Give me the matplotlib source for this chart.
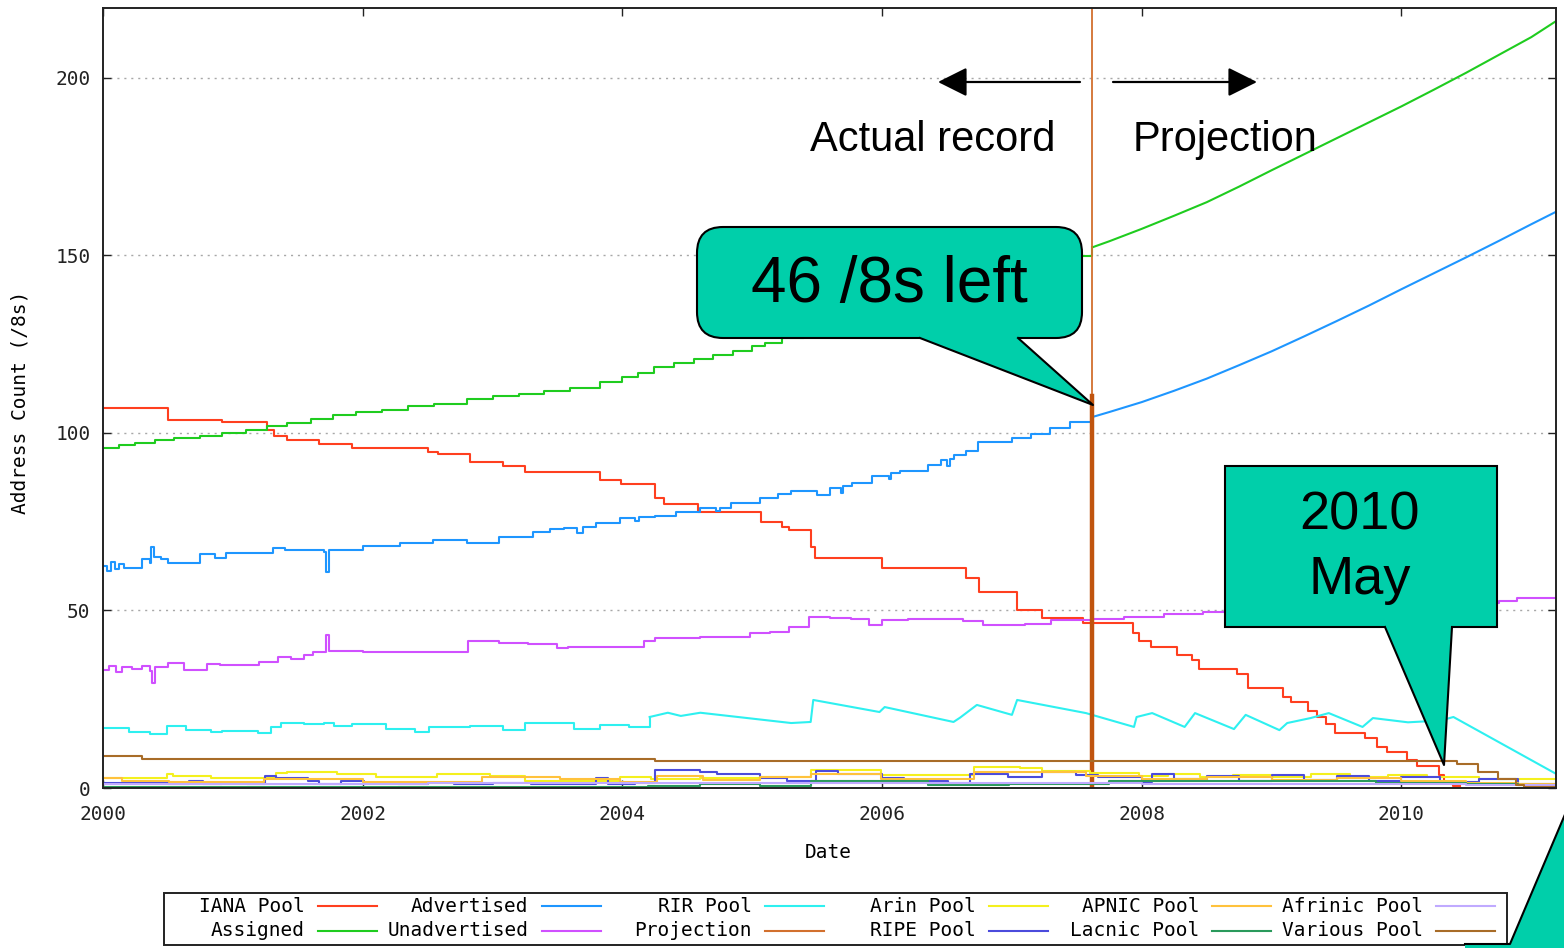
import matplotlib

matplotlib.use("Agg")
import matplotlib.pyplot as plt
from matplotlib.lines import Line2D
from matplotlib.patches import FancyArrowPatch, FancyBboxPatch, Polygon, Rectangle
from matplotlib.transforms import Affine2D

# --- data (year, /8 count) ---
iana_pool = [
    (2000.00, 107.0), (2000.50, 103.7), (2000.92, 103.0), (2001.26, 100.8), (2001.32, 99.2),
    (2001.42, 98.0), (2001.66, 96.9), (2001.92, 95.8), (2002.50, 94.6), (2002.58, 94.0),
    (2002.83, 91.8), (2003.08, 90.7), (2003.25, 89.0), (2003.83, 86.8), (2003.99, 85.6),
    (2004.25, 81.7), (2004.32, 80.0), (2004.58, 77.7), (2005.07, 75.0), (2005.23, 73.5),
    (2005.28, 72.7), (2005.45, 68.0), (2005.48, 64.8), (2006.00, 62.0), (2006.65, 59.2),
    (2006.75, 55.2), (2007.04, 50.1), (2007.23, 47.9), (2007.55, 46.5), (2007.93, 43.7),
    (2007.98, 41.4), (2008.07, 39.7), (2008.27, 37.5), (2008.39, 36.0), (2008.44, 33.5),
    (2008.73, 32.1), (2008.82, 28.2), (2009.09, 25.6), (2009.15, 24.2), (2009.28, 21.7),
    (2009.35, 20.0), (2009.42, 18.0), (2009.49, 15.5), (2009.72, 14.1), (2009.81, 11.5),
    (2009.89, 10.1), (2010.04, 7.9), (2010.12, 6.2), (2010.29, 3.7), (2010.33, 1.4),
    (2010.40, 0.5), (2010.45, 0.5),
]

assigned = [
    (2000.00, 95.8), (2000.12, 96.5), (2000.25, 97.2), (2000.40, 97.9), (2000.55, 98.5),
    (2000.75, 99.2), (2000.92, 100.0), (2001.10, 100.9), (2001.26, 102.0), (2001.42, 102.8),
    (2001.60, 103.8), (2001.77, 105.0), (2001.95, 105.8), (2002.15, 106.6), (2002.35, 107.5),
    (2002.55, 108.3), (2002.80, 109.5), (2003.00, 110.3), (2003.20, 111.0), (2003.40, 111.8),
    (2003.60, 112.8), (2003.83, 114.4), (2004.00, 115.8), (2004.12, 117.0), (2004.24, 118.6),
    (2004.40, 119.6), (2004.55, 120.8), (2004.70, 122.0), (2004.85, 123.2), (2005.00, 124.4),
    (2005.10, 125.4), (2005.23, 126.8), (2005.40, 128.5), (2005.60, 130.5), (2005.80, 132.5),
    (2006.00, 134.5), (2006.20, 136.5), (2006.40, 138.6), (2006.60, 140.8), (2006.80, 143.0),
    (2007.00, 145.2), (2007.20, 147.5), (2007.40, 149.8), (2007.62, 152.3),
]
assigned_proj = [
    (2007.62, 152.3), (2007.75, 154.0), (2008.00, 157.5), (2008.25, 161.2), (2008.50, 165.0),
    (2008.75, 169.4), (2009.00, 174.0), (2009.25, 178.5), (2009.50, 183.0), (2009.75, 187.5),
    (2010.00, 192.0), (2010.25, 196.7), (2010.50, 201.5), (2010.75, 206.5), (2011.00, 211.5),
    (2011.19, 216.0),
]

advertised = [
    (2000.00, 62.5), (2000.03, 61.0), (2000.06, 63.7), (2000.09, 61.8), (2000.12, 63.2),
    (2000.16, 62.0), (2000.23, 62.0), (2000.30, 64.5), (2000.36, 63.5), (2000.37, 68.0),
    (2000.39, 65.0), (2000.45, 64.5), (2000.50, 63.4), (2000.61, 63.4), (2000.75, 66.0),
    (2000.86, 64.9), (2000.95, 66.2), (2001.18, 66.2), (2001.31, 67.6), (2001.40, 67.0),
    (2001.57, 67.0), (2001.70, 66.5), (2001.72, 60.8), (2001.74, 66.9), (2002.00, 68.2),
    (2002.29, 69.0), (2002.54, 69.9), (2002.80, 68.9), (2003.05, 70.7), (2003.31, 72.1),
    (2003.44, 73.0), (2003.55, 73.2), (2003.65, 71.8), (2003.70, 73.5), (2003.80, 74.6),
    (2003.98, 76.0), (2004.10, 75.2), (2004.13, 76.3), (2004.25, 76.6), (2004.41, 77.7),
    (2004.60, 78.8), (2004.72, 77.9), (2004.75, 79.0), (2004.84, 80.3), (2005.06, 81.7),
    (2005.20, 82.8), (2005.30, 83.7), (2005.50, 82.5), (2005.60, 84.5), (2005.68, 83.0),
    (2005.70, 85.2), (2005.77, 86.0), (2005.92, 87.9), (2006.05, 87.0), (2006.07, 88.6),
    (2006.14, 89.3), (2006.35, 91.0), (2006.45, 92.4), (2006.50, 90.8), (2006.52, 92.8),
    (2006.55, 93.8), (2006.65, 94.8), (2006.74, 97.5), (2007.00, 98.5), (2007.15, 99.8),
    (2007.29, 101.4), (2007.45, 103.0), (2007.62, 104.5),
]
advertised_proj = [
    (2007.62, 104.5), (2007.75, 105.9), (2008.00, 108.7), (2008.25, 111.9), (2008.50, 115.3),
    (2008.75, 119.1), (2009.00, 123.0), (2009.25, 127.2), (2009.50, 131.5), (2009.75, 135.9),
    (2010.00, 140.5), (2010.25, 145.0), (2010.50, 149.5), (2010.75, 154.1), (2011.00, 158.8),
    (2011.19, 162.3),
]

unadvertised = [
    (2000.00, 33.2), (2000.05, 34.5), (2000.10, 32.8), (2000.15, 34.0), (2000.22, 33.5),
    (2000.30, 34.3), (2000.36, 33.0), (2000.38, 29.6), (2000.40, 34.0), (2000.50, 35.2),
    (2000.62, 33.2), (2000.80, 35.0), (2000.90, 34.6), (2001.20, 35.5), (2001.35, 36.9),
    (2001.45, 36.2), (2001.55, 37.5), (2001.62, 38.3), (2001.72, 43.0), (2001.74, 38.6),
    (2002.00, 38.2), (2002.40, 38.4), (2002.81, 41.4), (2003.05, 40.8), (2003.27, 40.6),
    (2003.50, 39.4), (2003.58, 39.8), (2004.17, 41.4), (2004.25, 42.2), (2004.60, 42.6),
    (2004.98, 43.7), (2005.14, 44.0), (2005.28, 45.4), (2005.44, 48.2), (2005.60, 48.0),
    (2005.76, 47.6), (2005.90, 45.9), (2006.00, 47.3), (2006.20, 47.6), (2006.62, 46.9),
    (2006.78, 45.9), (2007.10, 46.2), (2007.30, 47.3), (2007.62, 47.6), (2007.86, 48.2),
    (2008.17, 49.0), (2008.47, 49.6), (2009.20, 50.4), (2009.90, 51.3), (2010.50, 52.0),
    (2010.75, 52.7), (2010.89, 53.5), (2011.19, 53.5),
]

rir_pool_steps = [
    (2000.00, 16.9), (2000.20, 15.8), (2000.36, 15.2), (2000.49, 17.5), (2000.64, 16.3),
    (2000.83, 15.8), (2000.92, 16.1), (2001.19, 15.5), (2001.29, 17.2), (2001.37, 18.3),
    (2001.55, 18.0), (2001.70, 18.3), (2001.78, 17.5), (2001.92, 18.0), (2002.18, 16.6),
    (2002.40, 15.8), (2002.51, 17.2), (2002.83, 17.5), (2003.08, 16.3), (2003.25, 18.3),
    (2003.63, 16.6), (2003.83, 17.8), (2004.05, 17.2), (2004.21, 20.0),
]
rir_pool_saw = [
    (2004.21, 20.0), (2004.35, 21.2), (2004.45, 20.3), (2004.60, 21.2), (2005.30, 18.3),
    (2005.45, 18.6), (2005.47, 24.8), (2005.98, 21.4), (2006.02, 22.8), (2006.55, 18.6),
    (2006.60, 19.8), (2006.73, 23.4), (2007.00, 20.6), (2007.04, 24.8), (2007.57, 21.1),
    (2007.94, 17.2), (2007.96, 20.0), (2008.08, 21.1), (2008.33, 17.2), (2008.41, 21.1),
    (2008.71, 16.6), (2008.80, 20.6), (2009.06, 16.3), (2009.12, 18.3), (2009.30, 19.7),
    (2009.44, 21.1), (2009.70, 17.2), (2009.78, 19.7), (2010.05, 18.5), (2010.30, 19.0),
    (2010.40, 20.0), (2011.19, 4.0),
]

arin_pool = [
    (2000.00, 2.8), (2000.49, 3.9), (2000.54, 3.4), (2000.83, 2.8), (2001.33, 4.2),
    (2001.42, 4.5), (2001.80, 3.9), (2002.10, 3.1), (2002.57, 3.9), (2002.98, 3.4),
    (2003.25, 2.0), (2003.98, 3.1), (2004.22, 2.5), (2004.60, 2.8), (2005.06, 3.1),
    (2005.45, 5.1), (2005.99, 3.7), (2006.71, 5.9), (2007.06, 5.6), (2007.23, 4.8),
    (2007.60, 4.2), (2007.98, 3.3), (2008.20, 3.9), (2008.45, 3.0), (2008.70, 3.8),
    (2009.00, 3.2), (2009.30, 3.9), (2009.60, 3.0), (2009.90, 3.6), (2010.20, 3.0),
    (2010.60, 2.5), (2011.19, 2.5),
]
ripe_pool = [
    (2000.00, 1.4), (2000.50, 1.0), (2000.66, 2.0), (2000.77, 1.0), (2000.92, 1.4),
    (2001.11, 1.0), (2001.25, 3.4), (2001.33, 2.8), (2001.58, 2.0), (2001.66, 1.0),
    (2001.83, 2.0), (2002.01, 1.4), (2002.27, 1.0), (2002.50, 1.4), (2002.70, 1.0),
    (2003.00, 1.4), (2003.30, 1.0), (2003.80, 2.8), (2003.89, 1.0), (2004.10, 1.4),
    (2004.25, 5.1), (2004.60, 4.5), (2004.73, 3.9), (2005.06, 2.8), (2005.27, 2.0),
    (2005.49, 4.8), (2005.66, 3.9), (2006.00, 2.8), (2006.17, 2.0), (2006.51, 1.4),
    (2006.68, 3.9), (2006.97, 3.1), (2007.23, 4.5), (2007.49, 3.7), (2007.66, 3.1),
    (2008.00, 1.8), (2008.08, 3.9), (2008.25, 2.5), (2008.50, 3.5), (2008.75, 2.0),
    (2009.00, 3.6), (2009.25, 2.2), (2009.50, 3.4), (2009.75, 2.0), (2010.00, 3.0),
    (2010.30, 1.8), (2010.60, 2.5), (2010.90, 1.0), (2011.19, 1.0),
]
apnic_pool = [
    (2000.00, 2.8), (2000.15, 2.0), (2000.51, 1.8), (2001.24, 2.5), (2002.00, 1.8),
    (2002.92, 3.1), (2003.52, 2.5), (2003.98, 1.8), (2004.27, 3.4), (2004.62, 2.2),
    (2005.06, 3.0), (2005.45, 3.9), (2005.99, 2.5), (2006.71, 4.5), (2007.57, 3.5),
    (2008.00, 2.5), (2008.50, 3.0), (2009.00, 2.2), (2009.50, 2.8), (2010.00, 2.0),
    (2010.50, 1.5), (2010.90, 1.0), (2011.19, 1.0),
]
lacnic_pool = [
    (2000.00, 0.3), (2004.20, 0.5), (2004.60, 1.1), (2005.06, 0.6), (2005.45, 2.0),
    (2006.35, 0.8), (2006.98, 1.0), (2007.75, 2.0), (2009.80, 1.5), (2010.50, 1.2),
    (2010.90, 0.8), (2011.19, 0.8),
]
afrinic_pool = [
    (2000.00, 1.2), (2002.50, 1.4), (2004.50, 1.3), (2006.00, 1.5), (2008.00, 1.2),
    (2009.50, 1.0), (2010.50, 0.8), (2011.19, 0.8),
]
various_pool = [
    (2000.00, 9.0), (2000.30, 8.2), (2004.25, 7.7), (2010.43, 6.7), (2010.59, 4.6),
    (2010.74, 2.5), (2010.88, 0.8), (2010.94, 0.3), (2011.19, 0.3),
]

projection_year = 2007.62
projection_mark_top = 110.5

x_ticks = [2000, 2002, 2004, 2006, 2008, 2010]
y_ticks = [0, 50, 100, 150, 200]

colors = {
    "IANA Pool": "#ff3f1f",
    "Assigned": "#1fcc1f",
    "Advertised": "#1e96ff",
    "Unadvertised": "#d050ff",
    "RIR Pool": "#2ef0f0",
    "Projection": "#d2702e",
    "Arin Pool": "#f4f01e",
    "RIPE Pool": "#4b4bdc",
    "APNIC Pool": "#ffc23c",
    "Lacnic Pool": "#2a9a5c",
    "Afrinic Pool": "#c0aaff",
    "Various Pool": "#a86c28",
}
legend_rows = [
    ["IANA Pool", "Advertised", "RIR Pool", "Arin Pool", "APNIC Pool", "Afrinic Pool"],
    ["Assigned", "Unadvertised", "Projection", "RIPE Pool", "Lacnic Pool", "Various Pool"],
]

W, H = 1564, 948
MONO = "DejaVu Sans Mono"
SANS = ["Liberation Sans", "DejaVu Sans"]
TEAL = "#00cfaa"
FS = 14

fig = plt.figure(figsize=(W / 100, H / 100), dpi=100)
# pixel coordinates of the reference, origin top-left
px = Affine2D().scale(0.01, -0.01).translate(0, H * 0.01) + fig.dpi_scale_trans

ax = fig.add_axes([103 / W, 1 - 788 / H, (1556 - 103) / W, (788 - 8) / H])


def unzip(pairs):
    return [p[0] for p in pairs], [p[1] for p in pairs]


lw = 1.5
step_series = [
    (iana_pool, "IANA Pool"),
    (assigned, "Assigned"),
    (advertised, "Advertised"),
    (unadvertised, "Unadvertised"),
    (rir_pool_steps, "RIR Pool"),
]
for pairs, name in step_series:
    xs, ys = unzip(pairs)
    ax.step(xs, ys, where="post", color=colors[name], lw=lw)

for pairs, name in [(assigned_proj, "Assigned"), (advertised_proj, "Advertised"),
                    (rir_pool_saw, "RIR Pool")]:
    xs, ys = unzip(pairs)
    ax.plot(xs, ys, color=colors[name], lw=lw)

ax.axvline(projection_year, color=colors["Projection"], lw=1.3)
ax.plot([projection_year, projection_year], [0, projection_mark_top],
        color="#c0540e", lw=3.2)

for pairs, name in [(arin_pool, "Arin Pool"), (ripe_pool, "RIPE Pool"),
                    (apnic_pool, "APNIC Pool"), (lacnic_pool, "Lacnic Pool"),
                    (afrinic_pool, "Afrinic Pool"), (various_pool, "Various Pool")]:
    xs, ys = unzip(pairs)
    ax.step(xs, ys, where="post", color=colors[name], lw=lw)

ax.set_xlim(2000, 2011.19)
ax.set_ylim(0, 219.7)
ax.set_xticks(x_ticks)
ax.set_yticks(y_ticks)
ax.set_xticklabels([str(t) for t in x_ticks])
ax.tick_params(direction="in", length=6, width=1, top=True, right=True,
               labelsize=FS, colors="#222222")
ax.tick_params(axis="x", pad=12)
ax.tick_params(axis="y", pad=9)
for lab in ax.get_xticklabels() + ax.get_yticklabels():
    lab.set_family(MONO)
ax.yaxis.grid(True, linestyle=(0, (1.5, 3.5)), color="#a8a8a8", lw=1)
for sp in ax.spines.values():
    sp.set_linewidth(1.4)
    sp.set_color("#222222")

ax.set_xlabel("Date", family=MONO, fontsize=FS)
ax.xaxis.set_label_coords((828 - 103) / 1453, -(853 - 788) / 780)
ax.xaxis.label.set_va("center")
ax.set_ylabel("Address Count (/8s)", family=MONO, fontsize=FS)
ax.yaxis.set_label_coords(-(103 - 20) / 1453, (788 - 402) / 780)
ax.yaxis.label.set_va("center")

# legend box drawn below the plot, gnuplot style (label then sample)
fig.add_artist(Rectangle((164, 893), 1507 - 164, 945 - 893, transform=px,
                         fill=False, ec="#222222", lw=1.4, zorder=5))
for r, row in enumerate(legend_rows):
    yy = 906 + 25 * r
    for c, name in enumerate(row):
        right = 305 + 223.5 * c
        fig.text(right, yy, name, transform=px, ha="right", va="center",
                 family=MONO, fontsize=FS, zorder=6)
        fig.add_artist(Line2D([right + 13, right + 72], [yy, yy], transform=px,
                              color=colors[name], lw=lw, zorder=6))

# arrows and captions around the projection line
for start, tip in [((1080, 82), (938, 82)), ((1113, 82), (1257, 82))]:
    fig.add_artist(FancyArrowPatch(start, tip, transform=px,
                                   arrowstyle="-|>,head_length=0.9,head_width=0.45",
                                   mutation_scale=20, color="black", lw=1.6,
                                   shrinkA=0, shrinkB=0, zorder=7))
fig.text(810, 151, "Actual record", transform=px, ha="left", va="baseline",
         family=SANS, fontsize=30, zorder=7)
fig.text(1133, 151, "Projection", transform=px, ha="left", va="baseline",
         family=SANS, fontsize=30, zorder=7)

# callout 1: rounded box with pointer
fig.add_artist(FancyBboxPatch((697, 227), 1082 - 697, 338 - 227,
                              boxstyle="round,pad=0,rounding_size=26", transform=px,
                              fc=TEAL, ec="black", lw=1.5, zorder=8))
fig.add_artist(Polygon([(920, 338), (921, 333), (1017, 333), (1018, 338), (1093, 405)],
                       closed=True, transform=px, fc=TEAL, ec="none", zorder=9))
fig.add_artist(Line2D([920, 1093, 1018], [338, 405, 338], transform=px,
                      color="black", lw=1.5, zorder=9))
fig.text(889, 302, "46 /8s left", transform=px, ha="center", va="baseline",
         family=SANS, fontsize=46, zorder=10)

# callout 2: square box with pointer
fig.add_artist(Rectangle((1225, 466), 1497 - 1225, 627 - 466, transform=px,
                         fc=TEAL, ec="black", lw=1.5, zorder=8))
fig.add_artist(Polygon([(1385, 627), (1386, 623), (1451, 623), (1452, 627), (1444, 765)],
                       closed=True, transform=px, fc=TEAL, ec="none", zorder=9))
fig.add_artist(Line2D([1385, 1444, 1452], [627, 765, 627], transform=px,
                      color="black", lw=1.5, zorder=9))
fig.text(1360, 529, "2010", transform=px, ha="center", va="baseline",
         family=SANS, fontsize=39, zorder=10)
fig.text(1360, 594, "May", transform=px, ha="center", va="baseline",
         family=SANS, fontsize=39, zorder=10)

# corner of a third callout cut off by the slide edge
fig.add_artist(Polygon([(1465, 945), (1510, 945), (1566, 812), (1566, 950), (1465, 950)],
                       closed=True, transform=px, fc=TEAL, ec="none", zorder=8))
fig.add_artist(Line2D([1465, 1510, 1566], [944, 944, 812], transform=px,
                      color="black", lw=1.5, zorder=9))

fig.savefig("out.png", dpi=100)
plt.close(fig)
